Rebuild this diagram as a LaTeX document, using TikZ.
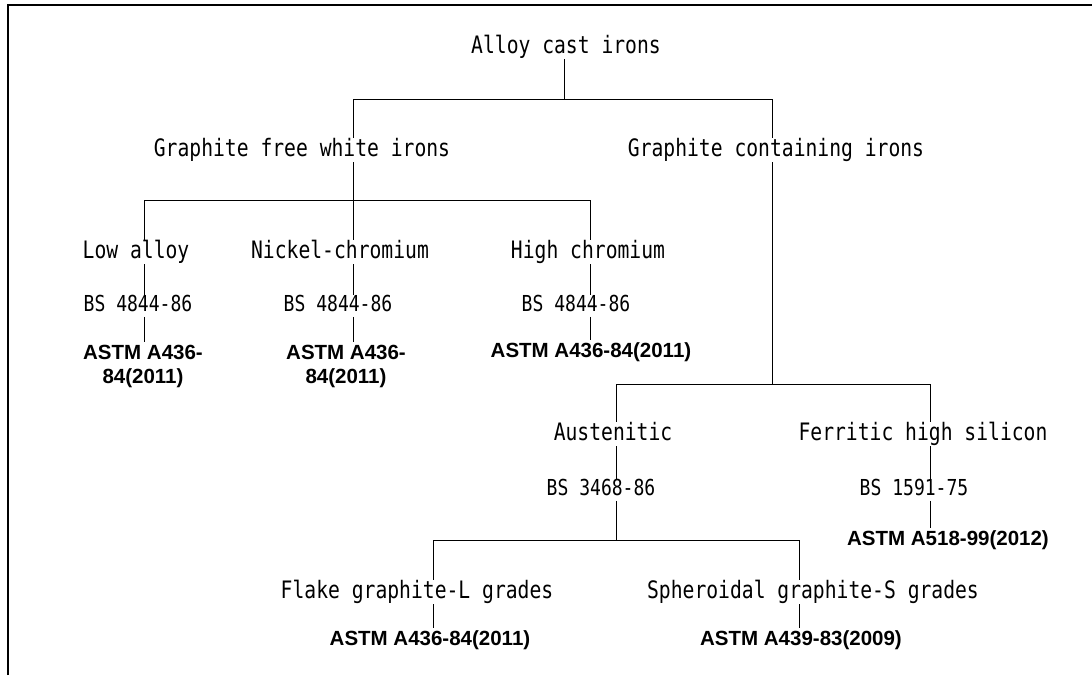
\documentclass[tikz,border=0pt]{standalone}
\usepackage{fontspec}
\setmainfont{Liberation Sans}
\newfontfamily\gothic{DejaVu Sans Mono}[FakeStretch=0.82]
\usetikzlibrary{positioning}

\tikzset{
  cls/.style={font=\gothic\fontsize{24}{26}\selectfont, inner sep=1pt, text height=17pt, text depth=5pt},
  bsno/.style={font=\gothic\fontsize{22}{24}\selectfont, inner sep=1pt, text height=15pt, text depth=4pt},
  astm/.style={font=\bfseries\fontsize{20.5}{24}\selectfont, inner sep=2pt, align=center},
}

\begin{document}
\begin{tikzpicture}[x=1pt,y=-1pt,line width=0.9pt]
\useasboundingbox (0,0) rectangle (1092,675);
\draw[line width=2pt] (8,675) -- (8,5) -- (1092,5);

% class names
\node[cls] (root) at (566,47) {Alloy cast irons};
\node[cls] (gfree) at (302,150) {Graphite free white irons};
\node[cls] (gcont) at (776,150) {Graphite containing irons};
\node[cls] (lowalloy) at (136,252) {Low alloy};
\node[cls] (nicr) at (340,252) {Nickel-chromium};
\node[cls] (highcr) at (588,252) {High chromium};
\node[cls] (aust) at (613,434) {Austenitic};
\node[cls] (ferr) at (923,434) {Ferritic high silicon};
\node[cls] (flake) at (417,592) {Flake graphite-L grades};
\node[cls] (sphero) at (813,592) {Spheroidal graphite-S grades};

% standards
\node[bsno] (bs1) at (138,306) {BS 4844-86};
\node[bsno] (bs2) at (338,306) {BS 4844-86};
\node[bsno] (bs3) at (576,306) {BS 4844-86};
\node[bsno] (bs4) at (601,490) {BS 3468-86};
\node[bsno] (bs5) at (914,490) {BS 1591-75};
\node[astm] (astm1) at (143,366) {ASTM A436-\\84(2011)};
\node[astm] (astm2) at (346,366) {ASTM A436-\\84(2011)};
\node[astm] (astm3) at (591,352) {ASTM A436-84(2011)};
\node[astm] (astm5) at (948,540) {ASTM A518-99(2012)};
\node[astm] (astm6) at (430,640) {ASTM A436-84(2011)};
\node[astm] (astm7) at (801,640) {ASTM A439-83(2009)};

% bars
\coordinate (b1l) at (353,99);  \coordinate (b1m) at (564,99);  \coordinate (b1r) at (772,99);
\coordinate (b2l) at (144,200); \coordinate (b2m) at (353,200); \coordinate (b2r) at (590,200);
\coordinate (b3l) at (616,384); \coordinate (b3m) at (772,384); \coordinate (b3r) at (930,384);
\coordinate (b4l) at (433,540); \coordinate (b4m) at (616,540); \coordinate (b4r) at (799,540);
\draw (b1l) -- (b1r);
\draw (b2l) -- (b2r);
\draw (b3l) -- (b3r);
\draw (b4l) -- (b4r);

% connectors
\foreach \n/\j in {root/b1m, gfree/b2m, gcont/b3m, bs4/b4m}
  \draw (\n.south -| \j) -- (\j);
\foreach \j/\n in {b1l/gfree, b1r/gcont, b2l/lowalloy, b2m/nicr, b2r/highcr, b3l/aust, b3r/ferr, b4l/flake, b4r/sphero}
  \draw (\j) -- (\n.north -| \j);
\foreach \j/\a/\b in {b2l/lowalloy/bs1, b2l/bs1/astm1, b2m/nicr/bs2, b2m/bs2/astm2, b2r/highcr/bs3, b2r/bs3/astm3,
                      b3l/aust/bs4, b3r/ferr/bs5, b3r/bs5/astm5, b4l/flake/astm6, b4r/sphero/astm7}
  \draw (\a.south -| \j) -- (\b.north -| \j);
\end{tikzpicture}
\end{document}
